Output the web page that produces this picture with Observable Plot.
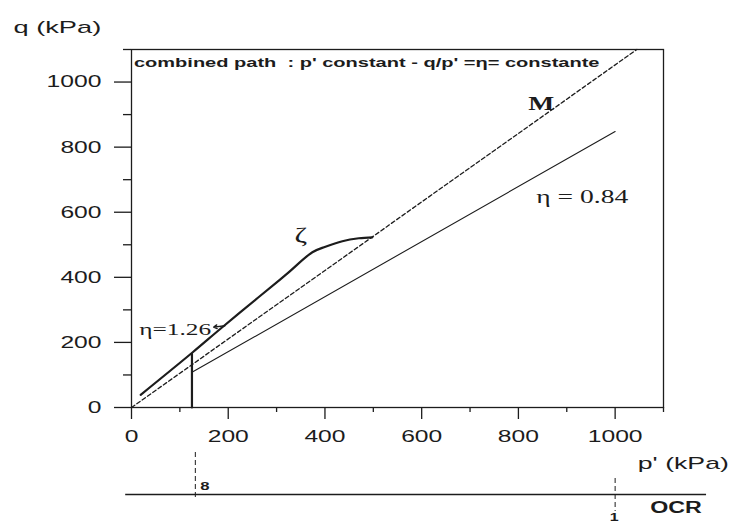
<!DOCTYPE html>
<html><head><meta charset="utf-8">
<script src="https://cdn.jsdelivr.net/npm/d3@7"></script>
<script src="https://cdn.jsdelivr.net/npm/@observablehq/plot@0.6"></script>
<style>
html,body{margin:0;padding:0;background:#fff;}
#chart svg{display:block;}
</style></head><body><div id="chart"></div>
<script>
// ---- data ----
const pathP = [19, 126, 184, 262, 320, 374, 401, 436, 470, 498];
const pathQ = [39, 169, 242, 338, 409, 477, 494, 511, 520, 523];
const verticalP = [125, 125];
const verticalQ = [0, 165];
const mLineP = [0, 1045];
const mLineQ = [0, 1100];
const eta084P = [125, 1000];
const eta084Q = [108, 848];
const xMajorTicks = [0, 200, 400, 600, 800, 1000];
const xMinorTicks = [100, 300, 500, 700, 900, 1100];
const yMajorTicks = [0, 200, 400, 600, 800, 1000];
const yMinorTicks = [100, 300, 500, 700, 900, 1100];
const ocrLabels = ["8", "1"];
const ocrPositions = [132, 1000];

// ---- tables ----
const toRows = (P, Q) => P.map((p, i) => ({p, q: Q[i]}));
const pathData = toRows(pathP, pathQ);
const verticalData = toRows(verticalP, verticalQ);
const mLineData = toRows(mLineP, mLineQ);
const eta084Data = toRows(eta084P, eta084Q);

const ink = "#1c1c1c";
const sans = "'Liberation Sans', Arial, sans-serif";
const serif = "'Liberation Serif', 'Times New Roman', serif";
const fmt = d => `${d}`;
const titleText = "combined path  : p' constant - q/p' =\u03b7= constante";

const main = Plot.plot({
  width: 745, height: 445,
  marginLeft: 131, marginRight: 82, marginTop: 49, marginBottom: 38,
  x: {domain: [0, 1100]},
  y: {domain: [0, 1100]},
  style: {fontFamily: sans, fontSize: "17px", color: ink, background: "white", overflow: "visible"},
  marks: [
    Plot.frame({stroke: ink, strokeWidth: 1.3}),
    Plot.axisY({ticks: yMajorTicks, tickSize: 17, tickPadding: 13, tickFormat: fmt, label: null, strokeWidth: 1.3}),
    Plot.axisY({ticks: yMinorTicks, tickSize: 8, tickFormat: () => "", label: null, strokeWidth: 1.3}),
    Plot.axisX({ticks: xMajorTicks, tickSize: 12, tickPadding: 10, tickFormat: fmt, label: null, strokeWidth: 1.3}),
    Plot.axisX({ticks: xMinorTicks, tickSize: 5, tickFormat: () => "", label: null, strokeWidth: 1.3}),
    Plot.line(mLineData, {x: "p", y: "q", stroke: ink, strokeWidth: 1.3, strokeDasharray: "4,2.5"}),
    Plot.line(eta084Data, {x: "p", y: "q", stroke: ink, strokeWidth: 1.1}),
    Plot.line(verticalData, {x: "p", y: "q", stroke: ink, strokeWidth: 2.2}),
    Plot.line(pathData, {x: "p", y: "q", stroke: ink, strokeWidth: 2.2, curve: "catmull-rom"}),
    Plot.arrow([0], {x1: 193, y1: 251, x2: 170, y2: 247, stroke: ink, strokeWidth: 1.4, headLength: 8}),
    Plot.text([titleText], {x: 5, y: 1060, textAnchor: "start", fontWeight: "bold", fontSize: 13, fill: ink}),
    Plot.text(["M"], {x: 847, y: 934, fontFamily: serif, fontWeight: "bold", fontSize: 19, fill: ink}),
    Plot.text(["\u03b7 = 0.84"], {x: 932, y: 647, fontFamily: serif, fontSize: 19, fill: ink}),
    Plot.text(["\u03b7=1.26"], {x: 16, y: 241, textAnchor: "start", fontFamily: serif, fontSize: 17.5, fill: ink}),
    Plot.text(["\u03b6"], {x: 350, y: 528, fontFamily: serif, fontSize: 21, fill: ink}),
    Plot.text(["q (kPa)"], {frameAnchor: "top-left", dx: -118, dy: -29, textAnchor: "start", fontSize: 17, fill: ink})
  ]
});

const ocr = Plot.plot({
  width: 745, height: 79,
  marginLeft: 131, marginRight: 82, marginTop: 0, marginBottom: 0,
  x: {domain: [0, 1100], axis: null},
  y: {type: "identity", axis: null},
  style: {fontFamily: sans, fontSize: "17px", color: ink, background: "white", overflow: "visible"},
  marks: [
    Plot.ruleY([49], {x1: -12, x2: 1189, stroke: ink, strokeWidth: 1.4}),
    Plot.ruleX([ocrPositions[0]], {y1: 7, y2: 53, stroke: ink, strokeWidth: 1, strokeDasharray: "5,3"}),
    Plot.ruleX([ocrPositions[1]], {y1: 33, y2: 66, stroke: ink, strokeWidth: 1, strokeDasharray: "5,3"}),
    Plot.text([ocrLabels[0]], {x: ocrPositions[0], y: 41, dx: 5, textAnchor: "start", fontWeight: "bold", fontSize: 11.5, fill: ink}),
    Plot.text([ocrLabels[1]], {x: ocrPositions[1], y: 72, dx: -1, fontWeight: "bold", fontSize: 11, fill: ink}),
    Plot.text(["OCR"], {x: 1126, y: 62.5, fontWeight: "bold", fontSize: 16, fill: ink}),
    Plot.text(["p' (kPa)"], {x: 1141, y: 18, fontSize: 17, fill: ink})
  ]
});

const chart = document.getElementById("chart");
chart.appendChild(main);
chart.appendChild(ocr);

// the reference lettering is widened horizontally
const widen = {[titleText]: 1.54, "q (kPa)": 1.6, "p' (kPa)": 1.57};
function stretch(svg, k) {
  for (const t of svg.querySelectorAll("text")) {
    const s = t.textContent.trim();
    if (!s) continue;
    const f = widen[t.textContent] || k;
    const w = t.getComputedTextLength();
    if (w > 0) {
      t.setAttribute("textLength", (w * f).toFixed(1));
      t.setAttribute("lengthAdjust", "spacingAndGlyphs");
    }
  }
}
stretch(main, 1.45);
stretch(ocr, 1.45);
</script>
</body></html>
